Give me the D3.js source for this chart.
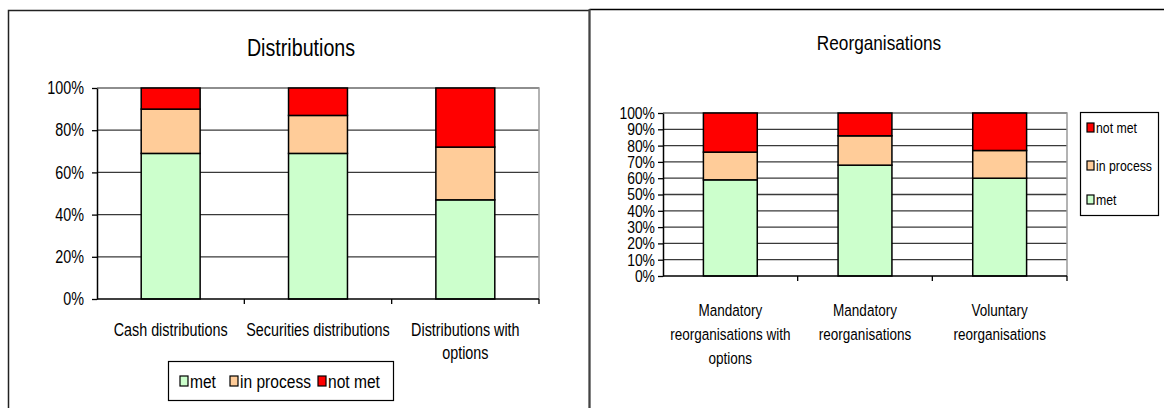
<!DOCTYPE html>
<html>
<head>
<meta charset="utf-8">
<script src="https://cdn.jsdelivr.net/npm/d3@7"></script>
<style>
  body { margin: 0; background: #fff; }
  svg { display: block; }
  text { font-family: "Liberation Sans", Arial, sans-serif; fill: #000; }
</style>
</head>
<body>
<svg id="chart" width="1164" height="408"></svg>
<script>
// status series, shared by both charts
const statusKeys = ['met', 'in process', 'not met']
const statusColors = ['#ccffcc', '#ffcc99', '#ff0000']

// Distributions (percent of each category)
const distCategories = ['Cash distributions', 'Securities distributions', 'Distributions with\noptions']
const distMet = [69, 69, 47]
const distInProcess = [21, 18, 25]
const distNotMet = [10, 13, 28]
const distTicks = [0, 20, 40, 60, 80, 100]

// Reorganisations (percent of each category)
const reorgCategories = ['Mandatory\nreorganisations with\noptions', 'Mandatory\nreorganisations', 'Voluntary\nreorganisations']
const reorgMet = [59, 68, 60]
const reorgInProcess = [17, 18, 17]
const reorgNotMet = [24, 14, 23]
const reorgTicks = [0, 10, 20, 30, 40, 50, 60, 70, 80, 90, 100]

// no narrow font installed, so squeeze Liberation Sans sideways
const SQ = 0.82
const svg = d3.select('#chart')

// panel frames
svg.append('path')
  .attr('d', 'M8.5,408 V10.5 H589.5 V408')
  .attr('fill', 'none').attr('stroke', '#222').attr('stroke-width', 1.5)
svg.append('path')
  .attr('d', 'M589.5,9.5 H1164')
  .attr('fill', 'none').attr('stroke', '#000').attr('stroke-width', 1.5)
svg.append('line')
  .attr('x1', 589.5).attr('x2', 589.5).attr('y1', 9).attr('y2', 408)
  .attr('stroke', '#444').attr('stroke-width', 2)

function squeeze(x, y) {
  return `translate(${x},${y}) scale(${SQ},1)`
}

function stackRows(cats, met, inproc, notmet) {
  return cats.map((c, i) => ({cat: c, 'met': met[i], 'in process': inproc[i], 'not met': notmet[i]}))
}

function draw_chart(opt) {
  let g = svg.append('g')
  let x = d3.scaleBand().domain(opt.categories).range([opt.x0, opt.x1])
  let y = d3.scaleLinear().domain([0, 100]).range([opt.y0, opt.y1])

  // gridlines
  g.append('g')
    .selectAll('line')
    .data(opt.ticks.filter(t => t > 0))
    .join('line')
    .attr('x1', opt.x0).attr('x2', opt.x1)
    .attr('y1', d => y(d)).attr('y2', d => y(d))
    .attr('stroke', '#3a3a3a').attr('stroke-width', 1.3)

  // plot frame (top/right in grey)
  g.append('path')
    .attr('d', `M${opt.x0},${y(100)} H${opt.x1} V${opt.y0}`)
    .attr('fill', 'none').attr('stroke', '#9a9a9a').attr('stroke-width', 1.5)

  // stacked bars
  let rows = stackRows(opt.categories, opt.met, opt.inproc, opt.notmet)
  let series = d3.stack().keys(statusKeys)(rows)
  let color = d3.scaleOrdinal().domain(statusKeys).range(statusColors)
  let bw = x.bandwidth() * 0.4
  g.append('g')
    .selectAll('g')
    .data(series)
    .join('g')
    .attr('fill', d => color(d.key))
    .selectAll('rect')
    .data(d => d)
    .join('rect')
    .attr('x', d => x(d.data.cat) + (x.bandwidth() - bw) / 2)
    .attr('width', bw)
    .attr('y', d => y(d[1]))
    .attr('height', d => y(d[0]) - y(d[1]))
    .attr('stroke', '#000').attr('stroke-width', 1.5)

  // y axis
  let ya = g.append('g')
    .attr('transform', `translate(${opt.x0},0)`)
    .call(d3.axisLeft(y).tickValues(opt.ticks).tickFormat(d => d + '%').tickSize(5).tickSizeOuter(0))
  ya.select('.domain').attr('stroke', '#000').attr('stroke-width', 1.5)
  ya.selectAll('.tick line').attr('stroke', '#000').attr('stroke-width', 1.3)
  ya.selectAll('text')
    .attr('font-size', opt.yFont)
    .attr('font-family', '"Liberation Sans", Arial, sans-serif')
    .attr('x', -opt.labelGap / SQ)
    .attr('transform', `scale(${SQ},1)`)

  // x axis: tick marks between categories
  let xa = g.append('g').attr('transform', `translate(0,${opt.y0})`)
  xa.append('line').attr('x1', opt.x0).attr('x2', opt.x1)
    .attr('stroke', '#000').attr('stroke-width', 1.5)
  xa.selectAll('line.sep')
    .data(opt.categories)
    .join('line').attr('class', 'sep')
    .attr('x1', d => x(d) + x.bandwidth()).attr('x2', d => x(d) + x.bandwidth())
    .attr('y1', 0).attr('y2', 5)
    .attr('stroke', '#000').attr('stroke-width', 1.3)

  // category labels
  g.append('g')
    .selectAll('text')
    .data(opt.categories)
    .join('text')
    .attr('text-anchor', 'middle')
    .attr('font-size', opt.xFont)
    .attr('transform', d => squeeze(x(d) + x.bandwidth() / 2, opt.labelY))
    .selectAll('tspan')
    .data(d => d.split('\n'))
    .join('tspan')
    .attr('x', 0)
    .attr('dy', (d, i) => i ? opt.lineH : 0)
    .text(d => d)

  // title
  g.append('text')
    .attr('transform', squeeze(opt.titleX, opt.titleY))
    .attr('text-anchor', 'middle')
    .attr('font-size', opt.titleFont)
    .text(opt.title)
}

draw_chart({
  title: 'Distributions', titleX: 301, titleY: 56, titleFont: 24,
  categories: distCategories, met: distMet, inproc: distInProcess, notmet: distNotMet,
  ticks: distTicks,
  x0: 97, x1: 539, y0: 299, y1: 88,
  yFont: 17.5, labelGap: 13, xFont: 17.5, labelY: 336, lineH: 23
})

draw_chart({
  title: 'Reorganisations', titleX: 879, titleY: 50, titleFont: 21,
  categories: reorgCategories, met: reorgMet, inproc: reorgInProcess, notmet: reorgNotMet,
  ticks: reorgTicks,
  x0: 663, x1: 1067, y0: 276, y1: 113,
  yFont: 17, labelGap: 8, xFont: 16.5, labelY: 316, lineH: 24
})

// legend: Distributions (horizontal)
let leg1 = svg.append('g')
leg1.append('rect')
  .attr('x', 168.5).attr('y', 361.5).attr('width', 225).attr('height', 39)
  .attr('fill', '#fff').attr('stroke', '#000').attr('stroke-width', 1.2)
let leg1X = [180, 230, 318]
let li1 = leg1.selectAll('g.item')
  .data(statusKeys)
  .join('g').attr('class', 'item')
  .attr('transform', (d, i) => `translate(${leg1X[i]},381)`)
li1.append('rect')
  .attr('x', 0).attr('y', -5).attr('width', 8).attr('height', 10)
  .attr('fill', (d, i) => statusColors[i]).attr('stroke', '#000').attr('stroke-width', 1.2)
li1.append('text')
  .attr('transform', squeeze(10, 7))
  .attr('font-size', 19)
  .text(d => d)

// legend: Reorganisations (vertical, reversed)
let leg2 = svg.append('g')
leg2.append('rect')
  .attr('x', 1080.5).attr('y', 112.5).attr('width', 78).attr('height', 103)
  .attr('fill', '#fff').attr('stroke', '#000').attr('stroke-width', 1.2)
let leg2Y = [127, 165, 199]
let revKeys = statusKeys.slice().reverse()
let revColors = statusColors.slice().reverse()
let li2 = leg2.selectAll('g.item')
  .data(revKeys)
  .join('g').attr('class', 'item')
  .attr('transform', (d, i) => `translate(1087,${leg2Y[i]})`)
li2.append('rect')
  .attr('x', 0).attr('y', -4).attr('width', 7).attr('height', 9)
  .attr('fill', (d, i) => revColors[i]).attr('stroke', '#000').attr('stroke-width', 1.2)
li2.append('text')
  .attr('transform', squeeze(9, 6))
  .attr('font-size', 15)
  .text(d => d)
</script>
</body>
</html>
